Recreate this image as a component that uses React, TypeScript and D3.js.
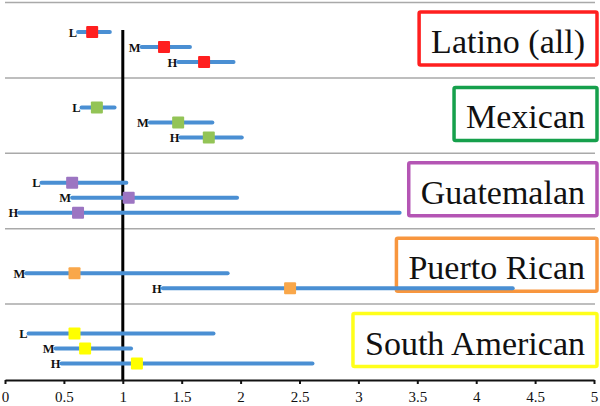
import React, { useEffect, useRef } from "react";
import * as d3 from "d3";

const groups = ["Latino (all)", "Mexican", "Guatemalan", "Puerto Rican", "South American"];
const levels = ["L", "M", "H"];
// point estimates, lower and upper bounds per group (L, M, H)
const estimates = [
  [0.74, 1.35, 1.69],
  [0.78, 1.47, 1.73],
  [0.57, 1.05, 0.62],
  [null, 0.59, 2.42],
  [0.59, 0.68, 1.12],
];
const lower = [
  [0.62, 1.16, 1.47],
  [0.65, 1.23, 1.49],
  [0.31, 0.57, 0.12],
  [null, 0.18, 1.34],
  [0.2, 0.43, 0.48],
];
const upper = [
  [0.89, 1.57, 1.94],
  [0.93, 1.76, 2.01],
  [1.03, 1.97, 3.35],
  [null, 1.89, 4.31],
  [1.77, 1.07, 2.61],
];
const tickValues = [0, 0.5, 1, 1.5, 2, 2.5, 3, 3.5, 4, 4.5, 5];
const boxColors = ["#ff1f1f", "#16a04c", "#b455b4", "#f8963e", "#ffff1a"];
const markerColors = ["#ff1f1f", "#93c456", "#9c75c2", "#f9a74a", "#ffff00"];

const width = 600;
const height = 406;

const ForestChart = () => {
  const ref = useRef(null);

  useEffect(() => {
    const g = d3.select(ref.current);
    g.selectAll("*").remove();

    const x = d3.scaleLinear().domain([0, 5]).range([5, 594]);
    const yGroup = d3.scaleBand().domain(groups).range([2, 379]);
    const yLevel = d3.scalePoint().domain(levels).range([30, 60]);
    const axisY = 380;

    // group separators
    g.selectAll(".sep")
      .data(groups)
      .enter().append("line")
        .attr("x1", 5)
        .attr("x2", 595)
        .attr("y1", d => yGroup(d) + 0.5)
        .attr("y2", d => yGroup(d) + 0.5)
        .attr("stroke", "#a9a9a9")
        .attr("stroke-width", 1.5);

    // legend boxes
    groups.forEach((name, i) => {
      const top = yGroup(name);
      const box = g.append("rect")
        .attr("fill", "white")
        .attr("stroke", boxColors[i])
        .attr("stroke-width", 3.5)
        .attr("rx", 1.5);
      const t = g.append("text")
        .attr("x", 585)
        .attr("y", top + 51)
        .attr("text-anchor", "end")
        .attr("font-family", "'Liberation Serif', 'Times New Roman', serif")
        .attr("font-size", 34)
        .attr("fill", "#111")
        .text(name);
      const bb = t.node().getBBox();
      box.attr("x", bb.x - 12)
        .attr("y", top + 10)
        .attr("width", bb.width + 24)
        .attr("height", 53);
    });

    // reference line at 1
    g.append("line")
      .attr("x1", x(1))
      .attr("x2", x(1))
      .attr("y1", 30)
      .attr("y2", axisY)
      .attr("stroke", "black")
      .attr("stroke-width", 3);

    const rows = [];
    groups.forEach((name, i) => {
      levels.forEach((lv, j) => {
        if (estimates[i][j] == null) return;
        rows.push({
          group: i,
          level: lv,
          y: yGroup(name) + yLevel(lv),
          est: estimates[i][j],
          lo: lower[i][j],
          hi: upper[i][j],
        });
      });
    });

    g.selectAll(".ci")
      .data(rows)
      .enter().append("line")
        .attr("x1", d => x(d.lo))
        .attr("x2", d => x(d.hi))
        .attr("y1", d => d.y)
        .attr("y2", d => d.y)
        .attr("stroke", "#4a8fd3")
        .attr("stroke-width", 4)
        .attr("stroke-linecap", "round");

    g.selectAll(".lvl")
      .data(rows)
      .enter().append("text")
        .attr("x", d => x(d.lo) - 1)
        .attr("y", d => d.y + 4.5)
        .attr("text-anchor", "end")
        .attr("font-family", "'Liberation Serif', 'Times New Roman', serif")
        .attr("font-weight", "bold")
        .attr("font-size", 12.5)
        .attr("fill", "#111")
        .text(d => d.level);

    const s = 12;
    g.selectAll(".mk")
      .data(rows)
      .enter().append("rect")
        .attr("x", d => x(d.est) - s / 2)
        .attr("y", d => d.y - s / 2)
        .attr("width", s)
        .attr("height", s)
        .attr("rx", 1)
        .attr("fill", d => markerColors[d.group]);

    // x axis
    const axisG = g.append("g")
      .attr("transform", `translate(0, ${axisY})`)
      .call(d3.axisBottom(x)
        .tickValues(tickValues)
        .tickFormat(d3.format(""))
        .tickSize(4)
        .tickSizeOuter(0)
        .tickPadding(7));

    axisG.select(".domain")
      .attr("stroke", "#111")
      .attr("stroke-width", 2);
    axisG.selectAll(".tick line")
      .attr("stroke", "#111")
      .attr("stroke-width", 2);
    axisG.selectAll("text")
      .attr("font-family", "'Liberation Serif', 'Times New Roman', serif")
      .attr("font-size", 15)
      .attr("fill", "#111");
  }, []);

  return (
    <svg width={width} height={height} style={{ position: "absolute", left: 0, top: 0, background: "white" }}>
      <g ref={ref} />
    </svg>
  );
};

export default function App() {
  return <ForestChart />;
}
